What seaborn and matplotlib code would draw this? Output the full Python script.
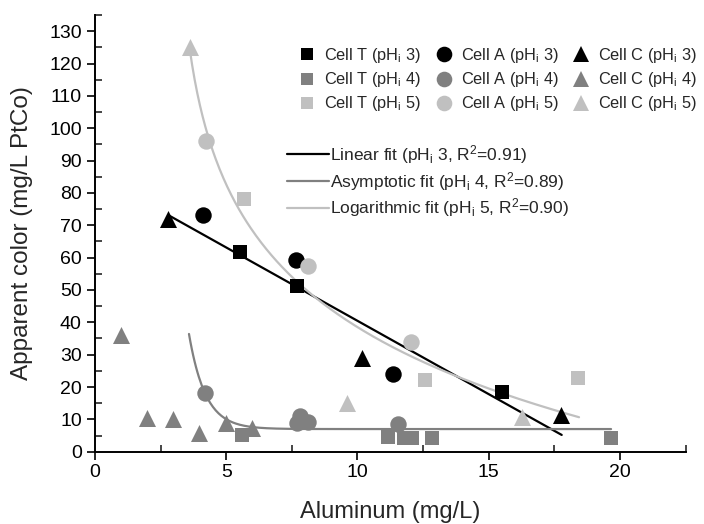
import numpy as np
import pandas as pd
import matplotlib
matplotlib.use("Agg")
import matplotlib.pyplot as plt
from matplotlib.lines import Line2D
from matplotlib.ticker import MultipleLocator
import seaborn as sns

sns.set_theme(style="ticks")
plt.rcParams["font.family"] = ["Liberation Sans", "DejaVu Sans"]
plt.rcParams["mathtext.default"] = "regular"

# ---- data ----
t3_x = [5.52, 7.68, 15.49]
t3_y = [61.8, 51.1, 18.4]
a3_x = [4.10, 7.65, 11.34]
a3_y = [73.2, 59.2, 24.1]
c3_x = [2.79, 10.18, 17.75]
c3_y = [72.0, 29.0, 11.4]

t4_x = [5.59, 11.17, 11.77, 12.06, 12.83, 19.65]
t4_y = [5.2, 4.6, 4.3, 4.1, 4.1, 4.1]
a4_x = [4.19, 7.68, 7.81, 8.13, 11.56]
a4_y = [18.1, 9.0, 11.1, 9.3, 8.6]
c4_x = [0.99, 1.99, 2.98, 3.97, 4.98, 5.99]
c4_y = [36.2, 10.4, 10.1, 5.7, 8.8, 7.3]

t5_x = [5.69, 12.57, 18.41]
t5_y = [78.0, 22.2, 22.7]
a5_x = [4.22, 8.13, 12.03]
a5_y = [96.1, 57.3, 33.8]
c5_x = [3.62, 9.61, 16.25]
c5_y = [125.0, 15.0, 10.8]

# fit models (parameters estimated from the drawn curves)
lin_intercept, lin_slope, lin_range = 85.8, -4.534, (2.8, 17.78)
asy_base, asy_amp, asy_rate, asy_range = 7.0, 8940.0, 1.597, (3.58, 19.66)
log_a, log_b, log_c, log_range = 107.0, 35.2, 3.0, (3.6, 18.44)

BLACK, GREY, LIGHT = "#000000", "#808080", "#c0c0c0"

series = [
    ("Cell T (pH$_i$ 3)", t3_x, t3_y, BLACK, "s", 95),
    ("Cell T (pH$_i$ 4)", t4_x, t4_y, GREY, "s", 95),
    ("Cell T (pH$_i$ 5)", t5_x, t5_y, LIGHT, "s", 95),
    ("Cell A (pH$_i$ 3)", a3_x, a3_y, BLACK, "o", 140),
    ("Cell A (pH$_i$ 4)", a4_x, a4_y, GREY, "o", 140),
    ("Cell A (pH$_i$ 5)", a5_x, a5_y, LIGHT, "o", 140),
    ("Cell C (pH$_i$ 3)", c3_x, c3_y, BLACK, "^", 150),
    ("Cell C (pH$_i$ 4)", c4_x, c4_y, GREY, "^", 150),
    ("Cell C (pH$_i$ 5)", c5_x, c5_y, LIGHT, "^", 150),
]

fig = plt.figure(figsize=(7.04, 5.24), dpi=100)
ax = fig.add_axes([95 / 704, 72.3 / 524, (685.6 - 95) / 704, (451.7 - 15) / 524])

# fit curves
xl = np.linspace(*lin_range, 100)
xa = np.linspace(*asy_range, 300)
xg = np.linspace(*log_range, 300)
fits = pd.DataFrame({
    "x": np.concatenate([xl, xa, xg]),
    "y": np.concatenate([lin_intercept + lin_slope * xl,
                         asy_base + asy_amp * np.exp(-asy_rate * xa),
                         log_a - log_b * np.log(xg - log_c)]),
    "fit": ["lin"] * len(xl) + ["asy"] * len(xa) + ["log"] * len(xg),
})
sns.lineplot(data=fits, x="x", y="y", hue="fit",
             palette={"lin": BLACK, "asy": GREY, "log": LIGHT},
             linewidth=1.6, legend=False, ax=ax, sort=False, estimator=None)

handles = []
for label, xs, ys, col, mk, s in series:
    sns.scatterplot(x=xs, y=ys, color=col, marker=mk, s=s, linewidth=0,
                    ax=ax, legend=False, zorder=3)
    handles.append(Line2D([], [], linestyle="none", marker=mk, color=col,
                          markersize=np.sqrt(s) * 0.95, markeredgewidth=0, label=label))

ax.set_xlim(0, 22.5)
ax.set_ylim(0, 135)
ax.xaxis.set_major_locator(MultipleLocator(5))
ax.xaxis.set_minor_locator(MultipleLocator(2.5))
ax.yaxis.set_major_locator(MultipleLocator(10))
ax.yaxis.set_minor_locator(MultipleLocator(5))
ax.set_yticks(np.arange(0, 131, 10))
ax.tick_params(which="major", direction="out", length=6, width=1.2, labelsize=14, colors="black")
ax.tick_params(axis="x", which="major", pad=3)
ax.tick_params(which="minor", direction="in", length=5, width=1.2)
for sp in ["top", "right"]:
    ax.spines[sp].set_visible(False)
for sp in ["left", "bottom"]:
    ax.spines[sp].set_linewidth(1.4)
    ax.spines[sp].set_color("black")

ax.set_xlabel("Aluminum (mg/L)", fontsize=17, labelpad=14)
ax.set_ylabel("Apparent color (mg/L PtCo)", fontsize=17.5, labelpad=12)

leg1 = ax.legend(handles=handles, ncol=3, loc="upper left",
                 bbox_to_anchor=(299 / 704, 1 - 46 / 524), bbox_transform=fig.transFigure,
                 frameon=False, fontsize=11.8, handlelength=1.0, handletextpad=0.55,
                 columnspacing=0.85, labelspacing=0.32, borderaxespad=0, borderpad=0)
ax.add_artist(leg1)

line_handles = [
    Line2D([], [], color=BLACK, lw=1.6, label="Linear fit (pH$_i$ 3, R$^2$=0.91)"),
    Line2D([], [], color=GREY, lw=1.6, label="Asymptotic fit (pH$_i$ 4, R$^2$=0.89)"),
    Line2D([], [], color=LIGHT, lw=1.6, label="Logarithmic fit (pH$_i$ 5, R$^2$=0.90)"),
]
ax.legend(handles=line_handles, loc="upper left",
          bbox_to_anchor=(287 / 704, 1 - 143 / 524), bbox_transform=fig.transFigure,
          frameon=False, fontsize=12.5, handlelength=2.4, handletextpad=0.05,
          labelspacing=0.22, borderaxespad=0, borderpad=0)

fig.savefig("out.png", dpi=100)
